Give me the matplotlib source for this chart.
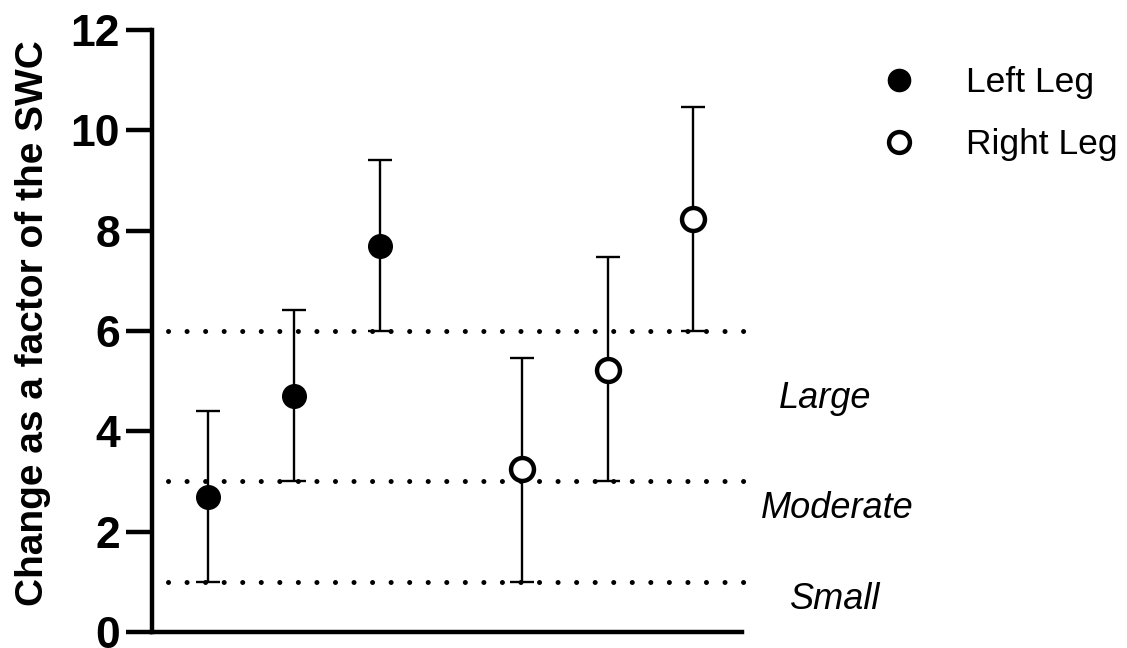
import matplotlib.pyplot as plt
from matplotlib.lines import Line2D

plt.rcParams['font.family'] = ['Liberation Sans', 'DejaVu Sans']

# group positions (gap between legs)
left_x = [0, 1, 2]
right_x = [3.65, 4.65, 5.65]

left_mean = [2.70, 4.71, 7.70]
left_upper = [4.41, 6.42, 9.40]
left_lower = [1.0, 3.0, 6.0]

right_mean = [3.25, 5.23, 8.23]
right_upper = [5.47, 7.47, 10.46]
right_lower = [1.0, 3.0, 6.0]

thresholds = [1, 3, 6]
zone_labels = ['Small', 'Moderate', 'Large']


def err(mean, lower, upper):
    return [[m - lo for m, lo in zip(mean, lower)], [up - m for m, up in zip(mean, upper)]]


fig = plt.figure(figsize=(11.27, 6.48), dpi=100)
ax = fig.add_axes([0.1349, 0.0247, 0.658 - 0.1349, 0.9537 - 0.0247])

# threshold dotted lines
for t in thresholds:
    ax.plot([-0.47, 6.24], [t, t], color='black', lw=3.6,
            linestyle=(0, (0.01, 3.7)), dash_capstyle='round', zorder=1, clip_on=False)

lc = ax.errorbar(left_x, left_mean, yerr=err(left_mean, left_lower, left_upper),
                 fmt='o', color='black', markersize=17, ecolor='black',
                 elinewidth=1.7, capsize=8.5, capthick=1.7, zorder=3)
rc = ax.errorbar(right_x, right_mean, yerr=err(right_mean, right_lower, right_upper),
                 fmt='o', color='black', markerfacecolor='white', markeredgecolor='black',
                 markeredgewidth=3.2, markersize=16.5, ecolor='black',
                 elinewidth=1.7, capsize=8.5, capthick=1.7, zorder=3)
for cap in rc[1]:
    cap.set_markeredgewidth(1.7)

ax.set_xlim(-0.65, 6.21)
ax.set_ylim(0, 12)
ax.set_yticks(range(0, 13, 2))
ax.set_xticks([])
for s in ['top', 'right']:
    ax.spines[s].set_visible(False)
for s in ['left', 'bottom']:
    ax.spines[s].set_linewidth(3.2)
ax.tick_params(axis='y', length=19, width=3.2, pad=4, labelsize=32)
for lab in ax.get_yticklabels():
    lab.set_fontweight('bold')
fig.text(0.029, 0.5008, 'Change as a factor of the SWC', rotation=90, fontsize=28,
         fontweight='bold', ha='center', va='center')

# zone labels to the right of the axis
for lab, (fx, fy) in zip(zone_labels, [(0.741, 0.075), (0.743, 0.215), (0.732, 0.385)]):
    fig.text(fx, fy, lab, fontsize=26, style='italic', ha='center', va='center')

handles = [Line2D([], [], marker='o', linestyle='none', color='black', markersize=16),
           Line2D([], [], marker='o', linestyle='none', markerfacecolor='white',
                  markeredgecolor='black', markeredgewidth=3.2, markersize=15)]
fig.legend(handles, ['Left Leg', 'Right Leg'], loc='upper left',
           bbox_to_anchor=(0.769, 0.92), frameon=False, fontsize=25.5,
           handletextpad=1.4, labelspacing=0.82, handlelength=1.0, borderaxespad=0)

fig.savefig('out.png', dpi=100)
